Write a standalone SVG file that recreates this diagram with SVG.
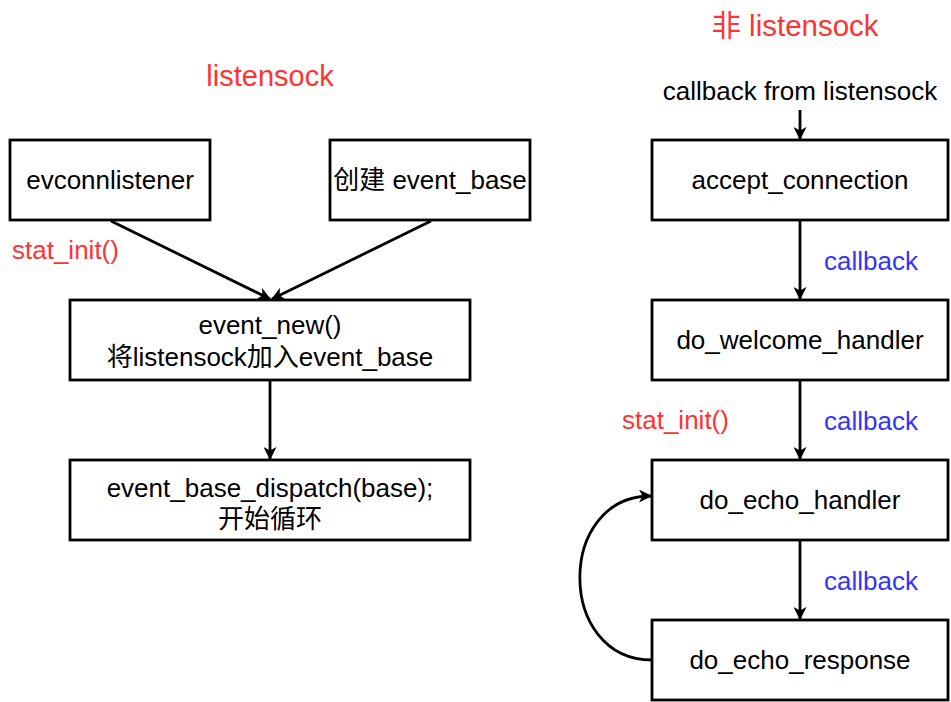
<svg xmlns="http://www.w3.org/2000/svg" width="951" height="702" viewBox="0 0 951 702">
<style>
.box{fill:#fff;stroke:#000;stroke-width:2.8}
.t{font-family:"Liberation Sans","Noto Sans CJK SC",sans-serif;font-size:26px;fill:#000;text-anchor:middle}
.red{fill:#FF3333}
.blue{fill:#3333FF}
.e{fill:none;stroke:#000;stroke-width:2.8}
</style>
<defs>
<marker id="ah" viewBox="0 0 13 13" refX="12" refY="6.5" markerWidth="13" markerHeight="13" markerUnits="userSpaceOnUse" orient="auto">
<path d="M0,0 L13,6.5 L0,13 L3.5,6.5 Z" fill="#000"/>
</marker>
</defs>
<rect width="951" height="702" fill="#fff"/>
<g id="connectors">
<line class="e" x1="111" y1="221" x2="270" y2="299" marker-end="url(#ah)"/>
<line class="e" x1="431" y1="221" x2="272" y2="299" marker-end="url(#ah)"/>
<line class="e" x1="270" y1="380" x2="270" y2="459" marker-end="url(#ah)"/>
<line class="e" x1="800" y1="110" x2="800" y2="139" marker-end="url(#ah)"/>
<line class="e" x1="800" y1="220" x2="800" y2="299" marker-end="url(#ah)"/>
<line class="e" x1="800" y1="380" x2="800" y2="459" marker-end="url(#ah)"/>
<line class="e" x1="800" y1="540" x2="800" y2="619" marker-end="url(#ah)"/>
<path class="e" d="M652,660 C556,660 556,496 651,496" marker-end="url(#ah)"/>
</g>
<g id="title-left"><text class="t red" x="270" y="86" style="font-size:29px">listensock</text></g>
<g id="title-right"><text class="t red" x="795" y="36" style="font-size:29.5px">非 listensock</text></g>
<g id="label-cb-from"><text class="t" x="800" y="100">callback from listensock</text></g>
<g id="evconnlistener"><rect class="box" x="10" y="140" width="200" height="80"/><text class="t" x="110" y="189">evconnlistener</text></g>
<g id="create-base"><rect class="box" x="330" y="140" width="200" height="80"/><text class="t" x="430" y="189">创建 event_base</text></g>
<g id="stat-init-left"><text class="t red" x="12" y="259" style="text-anchor:start">stat_init()</text></g>
<g id="event-new"><rect class="box" x="70" y="300" width="400" height="80"/><text class="t" x="270" y="334">event_new()</text><text class="t" x="270" y="366">将listensock加入event_base</text></g>
<g id="dispatch"><rect class="box" x="70" y="460" width="400" height="80"/><text class="t" x="270" y="497">event_base_dispatch(base);</text><text class="t" x="270" y="528">开始循环</text></g>
<g id="accept"><rect class="box" x="652" y="140" width="296" height="80"/><text class="t" x="800" y="189">accept_connection</text></g>
<g id="welcome"><rect class="box" x="652" y="300" width="296" height="80"/><text class="t" x="800" y="349">do_welcome_handler</text></g>
<g id="echo-handler"><rect class="box" x="652" y="460" width="296" height="80"/><text class="t" x="800" y="509">do_echo_handler</text></g>
<g id="echo-response"><rect class="box" x="652" y="620" width="296" height="80"/><text class="t" x="800" y="669">do_echo_response</text></g>
<g id="labels">
<text class="t blue" x="824" y="270" style="text-anchor:start">callback</text>
<text class="t blue" x="824" y="430" style="text-anchor:start">callback</text>
<text class="t blue" x="824" y="590" style="text-anchor:start">callback</text>
<text class="t red" x="622" y="429" style="text-anchor:start">stat_init()</text>
</g>
</svg>
